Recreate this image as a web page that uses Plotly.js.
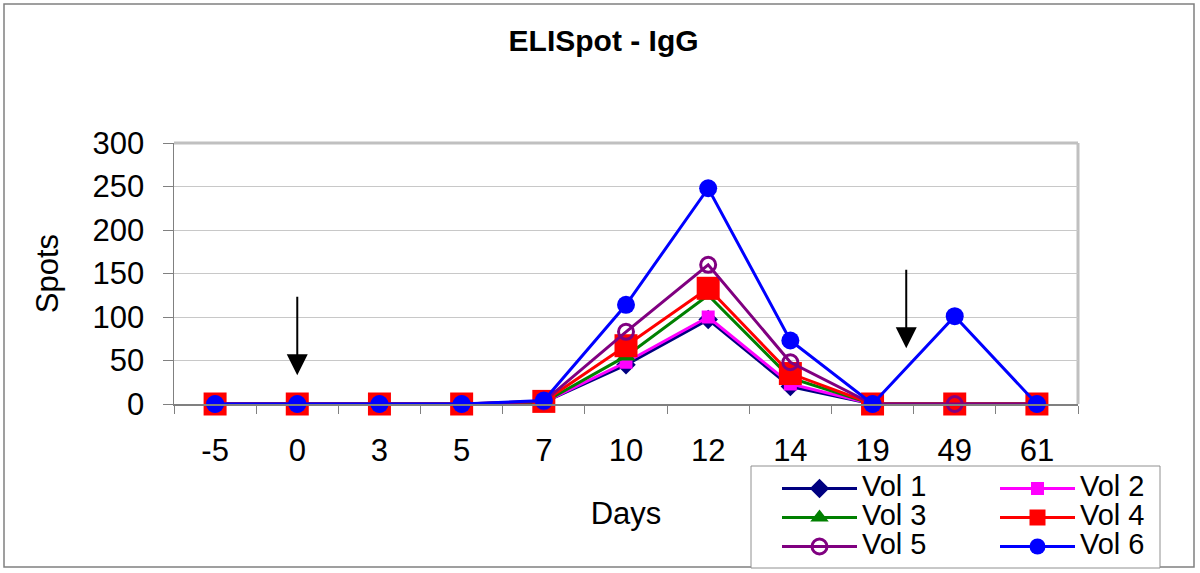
<!DOCTYPE html>
<html>
<head>
<meta charset="utf-8">
<script src="https://cdn.plot.ly/plotly-3.0.1.min.js"></script>
<style>
html,body{margin:0;padding:0;background:#fff;}
#chart{width:1200px;height:573px;}
</style>
</head>
<body>
<div id="chart"></div>
<script>
const days = ["-5","0","3","5","7","10","12","14","19","49","61"];
const vol1 = [0,0,0,0,2,45,97,20,0,0,0];
const vol2 = [0,0,0,0,2,48,100,23,0,0,0];
const vol3 = [0,0,0,0,2,55,125,30,0,0,0];
const vol4 = [0,0,0,0,3,67,133,35,0,0,0];
const vol5 = [0,0,0,0,3,83,160,48,0,0,0];
const vol6 = [0,0,0,0,4,114,248,73,0,101,0];
const names = ["Vol 1","Vol 2","Vol 3","Vol 4","Vol 5","Vol 6"];

const FONT = "Arial, 'Liberation Sans', sans-serif";
const W = 1200, H = 573, L = 174, R = 122, T = 143, B = 169;
const PW = W - L - R, PH = H - T - B;
const px = v => (v - L) / PW;
const py = v => (H - B - v) / PH;

function tr(name, y, color, symbol, size, legend, extraMarker) {
  return {
    type: 'scatter', mode: 'lines+markers',
    name: '<span style="font-size:29px">' + name + '</span>', legend: legend,
    x: days, y: y, cliponaxis: false,
    line: {color: color, width: 3},
    marker: Object.assign({color: color, symbol: symbol, size: size}, extraMarker || {})
  };
}

const data = [
  tr(names[0], vol1, '#000080', 'diamond', 15, 'legend'),
  tr(names[1], vol2, '#FF00FF', 'square', 13, 'legend2'),
  tr(names[2], vol3, '#008000', 'triangle-up', 17, 'legend'),
  tr(names[3], vol4, '#FF0000', 'square', 23, 'legend2'),
  tr(names[4], vol5, '#800080', 'circle-open', 15, 'legend', {line: {width: 3, color: '#800080'}}),
  tr(names[5], vol6, '#0000FF', 'circle', 18, 'legend2')
];

const legendBase = {
  orientation: 'v', xanchor: 'left', yanchor: 'top',
  font: {size: 20, family: FONT, color: '#000'}, bgcolor: 'rgba(0,0,0,0)', borderwidth: 0,
  itemwidth: 75, traceorder: 'normal', tracegroupgap: 0
};

const layout = {
  width: W, height: H,
  margin: {l: L, r: R, t: T, b: B, autoexpand: false},
  paper_bgcolor: '#fff', plot_bgcolor: '#fff',
  font: {family: FONT, color: '#000'},
  title: {text: '<b>ELISpot - IgG</b>', font: {family: FONT, size: 30, color: '#000'},
          x: 0.503, xanchor: 'center', y: 1 - 40/H, yanchor: 'middle', yref: 'container'},
  xaxis: {
    type: 'category', categoryorder: 'array', categoryarray: days, range: [-0.5, 10.5],
    title: {text: 'Days', font: {size: 31}, standoff: 35},
    tickfont: {size: 31}, ticks: 'outside', tickson: 'boundaries', ticklen: 8,
    ticklabelstandoff: 18,
    tickcolor: '#808080', showline: true, linecolor: '#808080', linewidth: 1.5,
    showgrid: false, zeroline: false, fixedrange: true, automargin: false
  },
  yaxis: {
    range: [0, 300], dtick: 50, tick0: 0,
    title: {text: 'Spots', font: {size: 31}, standoff: 24},
    tickfont: {size: 31}, ticks: 'outside', ticklen: 10, tickcolor: '#808080',
    ticklabelstandoff: 12,
    showline: true, linecolor: '#808080', linewidth: 1.5,
    gridcolor: '#c8c8c8', gridwidth: 1, zeroline: false, fixedrange: true, automargin: false
  },
  showlegend: true,
  legend: Object.assign({}, legendBase, {x: px(777), y: py(469)}),
  legend2: Object.assign({}, legendBase, {x: px(995), y: py(469)}),
  shapes: [
    {type: 'line', xref: 'paper', yref: 'paper', x0: 0, x1: 1, y0: 1, y1: 1, line: {color: '#c0c0c0', width: 3}, layer: 'below'},
    {type: 'line', xref: 'paper', yref: 'paper', x0: 1, x1: 1, y0: 0, y1: 1, line: {color: '#c0c0c0', width: 3}, layer: 'below'},
    {type: 'rect', xref: 'paper', yref: 'paper', x0: px(4), x1: px(1194), y0: py(567), y1: py(4), line: {color: '#808080', width: 1.5}, layer: 'below'},
    {type: 'rect', xref: 'paper', yref: 'paper', x0: px(751), x1: px(1160), y0: py(568), y1: py(466), line: {color: '#909090', width: 1}, fillcolor: '#fff', layer: 'above'}
  ],
  annotations: [
    {xref: 'x', yref: 'y', axref: 'x', ayref: 'y', x: 1, y: 33, ax: 1, ay: 125, text: '', showarrow: true,
     arrowhead: 2, arrowsize: 2.1, arrowwidth: 2, arrowcolor: '#000'},
    {xref: 'x', yref: 'y', axref: 'x', ayref: 'y', x: 8.41, y: 64, ax: 8.41, ay: 156, text: '', showarrow: true,
     arrowhead: 2, arrowsize: 2.1, arrowwidth: 2, arrowcolor: '#000'}
  ]
};

Plotly.newPlot('chart', data, layout, {staticPlot: true, displayModeBar: false});
</script>
</body>
</html>
